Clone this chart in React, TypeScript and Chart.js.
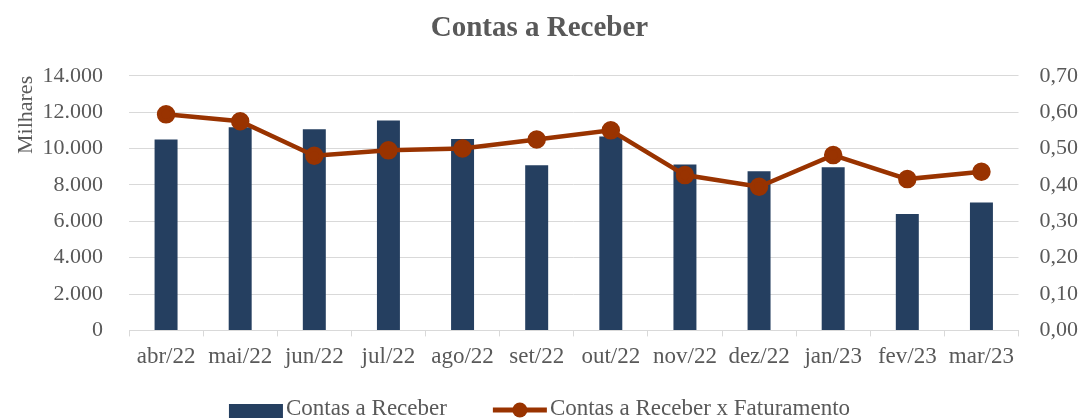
import React, { useEffect, useRef } from 'react';
import { Chart, registerables } from 'chart.js';

Chart.register(...registerables);

const categories = ['abr/22', 'mai/22', 'jun/22', 'jul/22', 'ago/22', 'set/22', 'out/22', 'nov/22', 'dez/22', 'jan/23', 'fev/23', 'mar/23'];
const contasReceber = [10500, 11170, 11060, 11540, 10530, 9080, 10660, 9120, 8750, 8970, 6400, 7030];
const contasXFaturamento = [0.594, 0.575, 0.48, 0.495, 0.5, 0.525, 0.55, 0.427, 0.395, 0.482, 0.416, 0.436];
const leftTickValues = [0, 2000, 4000, 6000, 8000, 10000, 12000, 14000];
const rightTickValues = [0, 0.1, 0.2, 0.3, 0.4, 0.5, 0.6, 0.7];

const FONT = '"Liberation Serif", "Times New Roman", serif';
const TEXT = '#595959';
const GRID = '#D9D9D9';
const BAR = '#253F60';
const LINE = '#993300';

const fmtThousands = (v: number) =>
  v === 0 ? '0' : Math.round(v).toString().replace(/\B(?=(\d{3})+(?!\d))/g, '.');
const fmtDecimal = (v: number) => v.toFixed(2).replace('.', ',');

const legendPlugin = {
  id: 'bottomLegend',
  afterDraw(chart: any) {
    const ctx = chart.ctx;
    ctx.save();
    ctx.font = `23px ${FONT}`;
    const symW = 54;
    const gap = 3;
    const itemGap = 46;
    const items = chart.data.datasets.map((ds: any) => ({
      ds,
      w: symW + gap + ctx.measureText(ds.label).width,
    }));
    const total = items.reduce((s: number, it: any) => s + it.w, 0) + itemGap * (items.length - 1);
    let x = (chart.width - total) / 2;
    const cy = chart.height - 8;
    const baseline = chart.height - 3;
    items.forEach(({ ds, w }: any) => {
      if (ds.type === 'line') {
        ctx.strokeStyle = ds.borderColor;
        ctx.lineWidth = 5;
        ctx.beginPath();
        ctx.moveTo(x, cy);
        ctx.lineTo(x + symW, cy);
        ctx.stroke();
        ctx.fillStyle = ds.pointBackgroundColor;
        ctx.beginPath();
        ctx.arc(x + symW / 2, cy, 7.5, 0, Math.PI * 2);
        ctx.fill();
      } else {
        ctx.fillStyle = ds.backgroundColor;
        ctx.fillRect(x, cy - 6, symW, 16);
      }
      ctx.fillStyle = TEXT;
      ctx.textAlign = 'left';
      ctx.textBaseline = 'alphabetic';
      ctx.fillText(ds.label, x + symW + gap, baseline);
      x += w + itemGap;
    });
    ctx.restore();
  },
};

export default function App() {
  const canvasRef = useRef<HTMLCanvasElement | null>(null);

  useEffect(() => {
    document.body.style.margin = '0';
    const canvas = canvasRef.current;
    if (!canvas) return;
    const chart = new Chart(canvas, {
      type: 'bar',
      data: {
        labels: categories,
        datasets: [
          {
            type: 'bar',
            label: 'Contas a Receber',
            data: contasReceber,
            yAxisID: 'y',
            backgroundColor: BAR,
            borderWidth: 0,
            barPercentage: 0.31,
            categoryPercentage: 1,
            order: 1,
          } as any,
          {
            type: 'line',
            label: 'Contas a Receber x Faturamento',
            data: contasXFaturamento,
            yAxisID: 'y2',
            borderColor: LINE,
            backgroundColor: LINE,
            pointBackgroundColor: LINE,
            pointBorderColor: LINE,
            borderWidth: 4.5,
            pointRadius: 7,
            pointHoverRadius: 7,
            tension: 0,
            order: 0,
          } as any,
        ],
      },
      options: {
        responsive: false,
        animation: false,
        layout: { padding: { left: 0, right: 0, top: 0, bottom: 40 } },
        plugins: {
          legend: { display: false },
          tooltip: { enabled: false },
          title: {
            display: true,
            text: 'Contas a Receber',
            color: TEXT,
            font: { family: FONT, size: 29, weight: 'bold' },
            padding: { top: 11, bottom: 30 },
          },
        },
        scales: {
          x: {
            grid: {
              offset: true,
              drawOnChartArea: false,
              drawTicks: true,
              tickLength: 6,
              color: GRID,
            },
            border: { display: true, color: GRID },
            ticks: {
              color: TEXT,
              font: { family: FONT, size: 23 },
              padding: 7,
              maxRotation: 0,
              minRotation: 0,
              autoSkip: false,
            },
          },
          y: {
            position: 'left',
            min: 0,
            max: 14000,
            afterBuildTicks: (scale: any) => {
              scale.ticks = leftTickValues.map((v) => ({ value: v }));
            },
            afterFit: (scale: any) => {
              scale.width = 129;
            },
            grid: { color: GRID, drawTicks: false },
            border: { display: false },
            ticks: {
              color: TEXT,
              font: { family: FONT, size: 22 },
              padding: 26,
              callback: (v: any) => fmtThousands(Number(v)),
            },
            title: {
              display: true,
              text: 'Milhares',
              align: 'end',
              color: TEXT,
              font: { family: FONT, size: 22 },
              padding: { top: 13, bottom: 0 },
            },
          },
          y2: {
            position: 'right',
            min: 0,
            max: 0.7,
            afterBuildTicks: (scale: any) => {
              scale.ticks = rightTickValues.map((v) => ({ value: v }));
            },
            afterFit: (scale: any) => {
              scale.width = 60.5;
            },
            grid: { drawOnChartArea: false, drawTicks: false },
            border: { display: false },
            ticks: {
              color: TEXT,
              font: { family: FONT, size: 22 },
              padding: 21,
              callback: (v: any) => fmtDecimal(Number(v)),
            },
          },
        },
      } as any,
      plugins: [legendPlugin],
    });
    return () => chart.destroy();
  }, []);

  return (
    <div style={{ width: 1079, height: 418 }}>
      <canvas ref={canvasRef} width={1079} height={418} style={{ display: 'block' }} />
    </div>
  );
}
